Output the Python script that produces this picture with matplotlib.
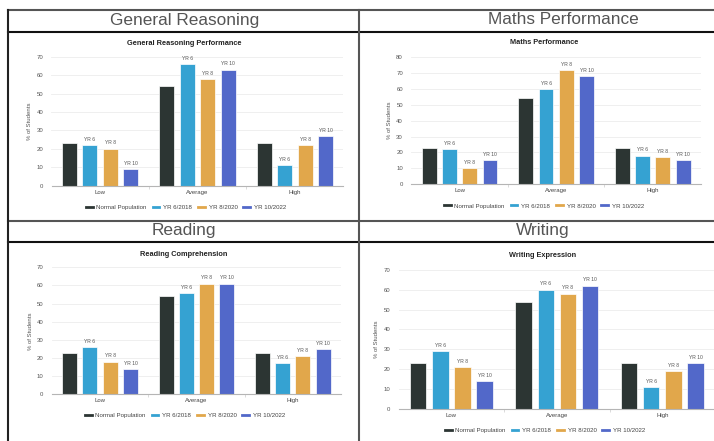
import matplotlib
matplotlib.use('Agg')
import matplotlib.pyplot as plt
from matplotlib.lines import Line2D

plt.rcParams['font.family'] = ['Liberation Sans', 'DejaVu Sans']

# Score bands and cohorts
categories = ['Low', 'Average', 'High']
series_names = ['Normal Population', 'YR 6/2018', 'YR 8/2020', 'YR 10/2022']
bar_tags = ['', 'YR 6', 'YR 8', 'YR 10']
colors = ['#2c3533', '#35a2d2', '#e1a74b', '#5268c9']

# % of students per band, one row per cohort
reasoning = [[23, 54, 23], [22, 66, 11], [20, 58, 22], [9, 63, 27]]
maths = [[23, 54, 23], [22, 60, 18], [10, 72, 17], [15, 68, 15]]
reading = [[23, 54, 23], [26, 56, 17], [18, 61, 21], [14, 61, 25]]
writing = [[23, 54, 23], [29, 60, 11], [21, 58, 19], [14, 62, 23]]

W, H = 714, 441


def fx(x):
    return x / W


def fy(y):
    return 1 - y / H


# header, header xy, chart title, title xy, axes box (l, r, top, base), ymax, legend xy
panels = [
    ('General Reasoning', (184.5, 20), 'General Reasoning Performance', (184.5, 43.3),
     (51.5, 343.5, 56.7, 185.5), 70, (186, 207), reasoning),
    ('Maths Performance', (563, 20), 'Maths Performance', (544, 42.7),
     (411.3, 701, 57, 184.3), 80, (544, 206), maths),
    ('Reading', (184, 231), 'Reading Comprehension', (184, 254),
     (51.9, 341, 267.3, 394.3), 70, (185, 415.3), reading),
    ('Writing', (543, 231), 'Writing Expression', (543, 255.3),
     (398.7, 715, 269.7, 409), 70, (545, 430.3), writing),
]

fig = plt.figure(figsize=(W / 100, H / 100), dpi=100)
fig.patch.set_facecolor('white')

slot = 0.21
width = 0.155

for header, hxy, title, txy, box, ymax, lxy, data in panels:
    l, r, top, base = box
    ax = fig.add_axes([fx(l), fy(base), (r - l) / W, (base - top) / H])

    for i, vals in enumerate(data):
        xs = [k + (i - 1.5) * slot for k in range(len(categories))]
        bars = ax.bar(xs, vals, width=width, color=colors[i], edgecolor='white',
                      linewidth=0.5, zorder=3)
        if bar_tags[i]:
            for b, v in zip(bars, vals):
                ax.text(b.get_x() + b.get_width() / 2, v + ymax * 0.025, bar_tags[i],
                        ha='center', va='bottom', fontsize=3.6, color='#555555')

    ax.set_xlim(-0.5, len(categories) - 0.5)
    ax.set_ylim(0, ymax)
    ax.set_yticks(range(0, ymax + 1, 10))
    ax.set_xticks(range(len(categories)))
    ax.set_xticklabels(categories)
    ax.set_xticks([0.5, 1.5], minor=True)
    ax.tick_params(axis='x', which='major', length=0, pad=3, labelsize=4.3,
                   labelcolor='#444444')
    ax.tick_params(axis='x', which='minor', length=2.5, width=0.5, color='#cccccc')
    ax.tick_params(axis='y', length=0, pad=6, labelsize=4.3, labelcolor='#555555')
    ax.grid(axis='y', color='#ececec', linewidth=0.6, zorder=0)
    for s in ['top', 'right', 'left']:
        ax.spines[s].set_visible(False)
    ax.spines['bottom'].set_color('#b5b5b5')
    ax.spines['bottom'].set_linewidth(0.8)
    ax.spines['bottom'].set_zorder(4)
    ax.set_ylabel('% of Students', fontsize=4.3, color='#555555', labelpad=3)

    fig.text(fx(txy[0]), fy(txy[1]), title, ha='center', va='center',
             fontsize=5.3, fontweight='bold', color='#222222')
    fig.text(fx(hxy[0]), fy(hxy[1]), header, ha='center', va='center',
             fontsize=12.4, color='#555555')

    handles = [Line2D([], [], color=c, linewidth=2) for c in colors]
    fig.legend(handles, series_names, loc='center', bbox_to_anchor=(fx(lxy[0]), fy(lxy[1])),
               ncol=4, frameon=False, fontsize=4.4, handlelength=1.1, handletextpad=0.6,
               columnspacing=1.0, labelcolor='#444444')

# table rules
rules = [
    ((8, 714), (10, 10), '#555555'),
    ((8, 714), (32, 32), '#111111'),
    ((8, 714), (221, 221), '#555555'),
    ((8, 714), (242, 242), '#111111'),
    ((8, 8), (10, 441), '#222222'),
    ((359, 359), (10, 441), '#555555'),
]
for xs, ys, c in rules:
    fig.add_artist(Line2D([fx(x) for x in xs], [fy(y) for y in ys],
                          transform=fig.transFigure, color=c, linewidth=1.5))

fig.savefig('out.png', dpi=100)
